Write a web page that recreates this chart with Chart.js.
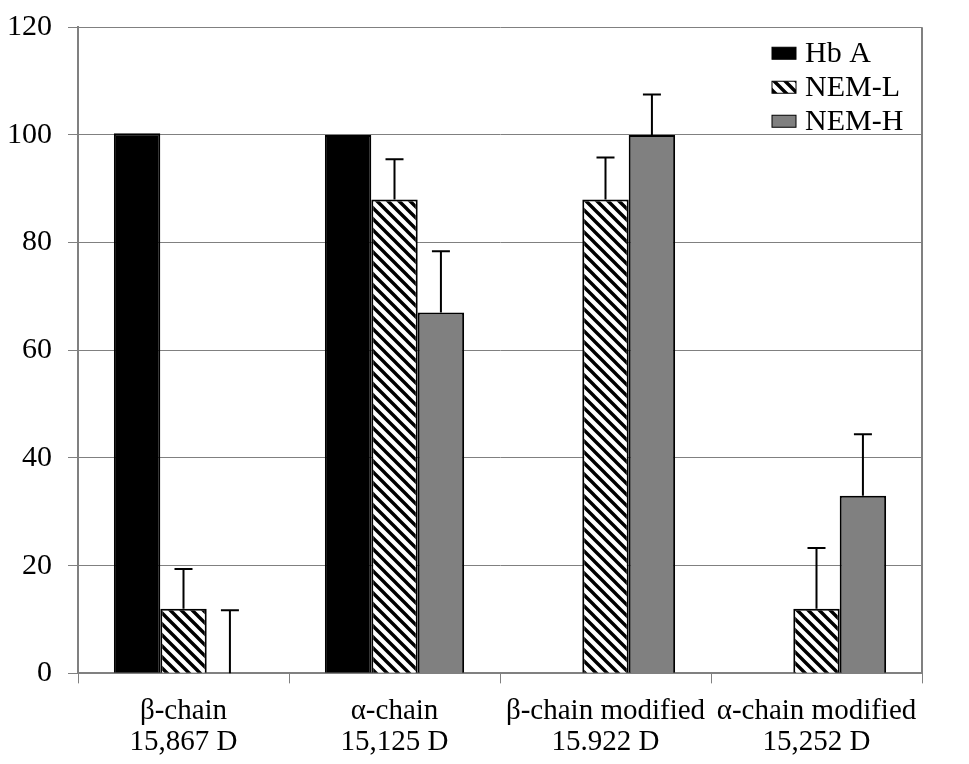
<!DOCTYPE html>
<html>
<head>
<meta charset="utf-8">
<script src="https://cdn.jsdelivr.net/npm/chart.js@4/dist/chart.umd.min.js"></script>
<style>
  html, body { margin: 0; padding: 0; background: #fff; }
  #wrap { width: 969px; height: 764px; }
</style>
</head>
<body>
<div id="wrap"><canvas id="chart"></canvas></div>
<script>
const categories = [
  ["β-chain", "15,867 D"],
  ["α-chain", "15,125 D"],
  ["β-chain modified", "15.922 D"],
  ["α-chain modified", "15,252 D"],
];
const seriesNames = ["Hb A", "NEM-L", "NEM-H"];
const hbA = [100.3, 100, 0, 0];
const nemL = [12, 88, 88, 12];
const nemH = [0, 67, 100, 33];
// upper error (only the + side is drawn)
const hbAErr = [0, 0, 0, 0];
const nemLErr = [7.4, 7.5, 7.8, 11.3];
const nemHErr = [11.7, 11.4, 7.5, 11.4];
const yTicks = [0, 20, 40, 60, 80, 100, 120];

const FONT = "Liberation Serif";

const hatch = (() => {
  const s = 11;
  const c = document.createElement("canvas");
  c.width = s;
  c.height = s;
  const g = c.getContext("2d");
  g.fillStyle = "#fff";
  g.fillRect(0, 0, s, s);
  g.strokeStyle = "#000";
  g.lineWidth = 3.4;
  g.beginPath();
  g.moveTo(-s, -s); g.lineTo(2 * s, 2 * s);
  g.moveTo(-s, 0); g.lineTo(s, 2 * s);
  g.moveTo(0, -s); g.lineTo(2 * s, s);
  g.stroke();
  return g.createPattern(c, "repeat");
})();

const fills = ["#000000", hatch, "#808080"];
const errs = [hbAErr, nemLErr, nemHErr];

const errorBars = {
  id: "errorBars",
  afterDatasetsDraw(chart) {
    const { ctx, scales } = chart;
    ctx.save();
    ctx.strokeStyle = "#000";
    ctx.lineWidth = 2;
    chart.data.datasets.forEach((ds, i) => {
      const meta = chart.getDatasetMeta(i);
      meta.data.forEach((bar, j) => {
        const e = errs[i][j];
        if (!e) return;
        const y0 = scales.y.getPixelForValue(ds.data[j]);
        const y1 = scales.y.getPixelForValue(ds.data[j] + e);
        ctx.beginPath();
        ctx.moveTo(bar.x, y0);
        ctx.lineTo(bar.x, y1);
        ctx.moveTo(bar.x - 9, y1);
        ctx.lineTo(bar.x + 9, y1);
        ctx.stroke();
      });
    });
    ctx.restore();
  },
};

const frameAndLegend = {
  id: "frameAndLegend",
  afterDraw(chart) {
    const { ctx, chartArea: a } = chart;
    ctx.save();
    ctx.strokeStyle = "#808080";
    ctx.lineWidth = 2;
    ctx.beginPath();
    ctx.moveTo(a.right, a.top);
    ctx.lineTo(a.right, a.bottom);
    ctx.stroke();

    ctx.font = `30px "${FONT}"`;
    ctx.textBaseline = "middle";
    const bx = a.right - 150;
    seriesNames.forEach((name, i) => {
      const cy = a.top + 26 + i * 34;
      ctx.fillStyle = fills[i];
      ctx.fillRect(bx, cy - 6, 24, 12);
      ctx.strokeStyle = "#000";
      ctx.lineWidth = 1;
      ctx.strokeRect(bx, cy - 6, 24, 12);
      ctx.fillStyle = "#000";
      ctx.fillText(name, bx + 33, cy + 1);
    });
    ctx.restore();
  },
};

new Chart(document.getElementById("chart"), {
  type: "bar",
  data: {
    labels: categories,
    datasets: [hbA, nemL, nemH].map((d, i) => ({
      label: seriesNames[i],
      data: d,
      backgroundColor: fills[i],
      borderColor: "#000",
      borderWidth: 2,
      borderSkipped: "bottom",
      categoryPercentage: 0.66,
      barPercentage: 1,
    })),
  },
  options: {
    responsive: true,
    maintainAspectRatio: false,
    animation: false,
    layout: { padding: { top: 0, right: 47, bottom: -6, left: -9 } },
    scales: {
      x: {
        grid: {
          drawOnChartArea: false,
          drawTicks: true,
          tickLength: 10,
          color: "#808080",
          lineWidth: 1,
        },
        border: { color: "#808080", width: 2 },
        ticks: {
          color: "#000",
          font: { family: FONT, size: 29, lineHeight: 1.08 },
          padding: 12,
          maxRotation: 0,
          autoSkip: false,
        },
      },
      y: {
        min: 0,
        max: 120,
        afterBuildTicks(axis) {
          axis.ticks = yTicks.map((v) => ({ value: v }));
        },
        grid: { color: "#808080", lineWidth: 1, tickLength: 10 },
        border: { color: "#808080", width: 2 },
        ticks: {
          color: "#000",
          font: { family: FONT, size: 30, lineHeight: 0.75 },
          padding: 16,
        },
      },
    },
    plugins: {
      legend: { display: false },
      tooltip: { enabled: false },
    },
  },
  plugins: [errorBars, frameAndLegend],
});
</script>
</body>
</html>
